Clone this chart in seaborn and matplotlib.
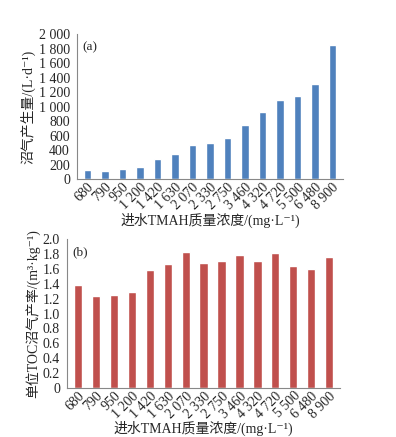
import matplotlib
matplotlib.use("Agg")
import matplotlib.pyplot as plt
import matplotlib.ticker as ticker
import seaborn as sns

# concentraciones de TMAH (etiquetas del eje x)
conc_labels = ['680', '790', '950', '1 200', '1 420', '1 630', '2 070', '2 330',
               '2 750', '3 460', '4 320', '4 720', '5 500', '6 480', '8 900']
# (a) producción de biogás, L/d
biogas = [124, 115, 147, 170, 280, 344, 472, 495, 569, 748, 927, 1092, 1142, 1312, 1853]
# (b) rendimiento de biogás por TOC, m3/kg
yield_toc = [1.38, 1.24, 1.25, 1.29, 1.58, 1.67, 1.83, 1.68, 1.71, 1.79, 1.71, 1.81, 1.64, 1.60, 1.76]

sns.set_style("white")
plt.rcParams['font.family'] = ['Liberation Serif', 'Noto Sans CJK SC', 'DejaVu Sans']
plt.rcParams['axes.unicode_minus'] = False

fig = plt.figure(figsize=(3.96, 4.37), dpi=100)
ax1 = fig.add_axes([0.194, 0.590, 0.672, 0.332])
ax2 = fig.add_axes([0.169, 0.112, 0.690, 0.341])

xlabel = '进水TMAH质量浓度/(mg·L⁻¹)'


def style_axis(ax):
    for s in ['top', 'right']:
        ax.spines[s].set_visible(False)
    for s in ['left', 'bottom']:
        ax.spines[s].set_color('#888888')
        ax.spines[s].set_linewidth(0.8)
    ax.tick_params(axis='y', length=3, width=0.6, color='#888888', labelsize=10, pad=2)
    ax.tick_params(axis='x', length=0, labelsize=10, pad=1)
    for lab in ax.get_xticklabels():
        lab.set_rotation(45)
        lab.set_ha('right')
        lab.set_rotation_mode('anchor')
    ax.set_xlim(-0.6, len(conc_labels) - 0.4)


# Panel (a)
sns.barplot(x=conc_labels, y=biogas, color='#4f81bd', width=0.42, saturation=1, ax=ax1)
ax1.set_ylim(0, 2000)
ax1.yaxis.set_major_locator(ticker.MultipleLocator(200))
ax1.yaxis.set_major_formatter(ticker.FuncFormatter(lambda v, _: f"{v:,.0f}".replace(",", " ")))
style_axis(ax1)
ax1.set_ylabel('沼气产生量/(L·d⁻¹)', fontsize=10, labelpad=2)
ax1.set_xlabel(xlabel, fontsize=10, labelpad=1)
ax1.text(0.02, 0.95, '(a)', transform=ax1.transAxes, fontsize=9.5, va='top')

# Panel (b)
sns.barplot(x=conc_labels, y=yield_toc, color='#c0504d', width=0.45, saturation=1, ax=ax2)
ax2.set_ylim(0, 2.0)
ax2.yaxis.set_major_locator(ticker.MultipleLocator(0.2))
ax2.yaxis.set_major_formatter(ticker.FuncFormatter(lambda v, _: "0" if abs(v) < 1e-9 else f"{v:.1f}"))
style_axis(ax2)
ax2.set_ylabel('单位TOC沼气产率/(m³·kg⁻¹)', fontsize=10, labelpad=2)
ax2.set_xlabel(xlabel, fontsize=10, labelpad=0)
ax2.text(0.02, 0.95, '(b)', transform=ax2.transAxes, fontsize=9.5, va='top')

fig.savefig('out.png', dpi=100)
